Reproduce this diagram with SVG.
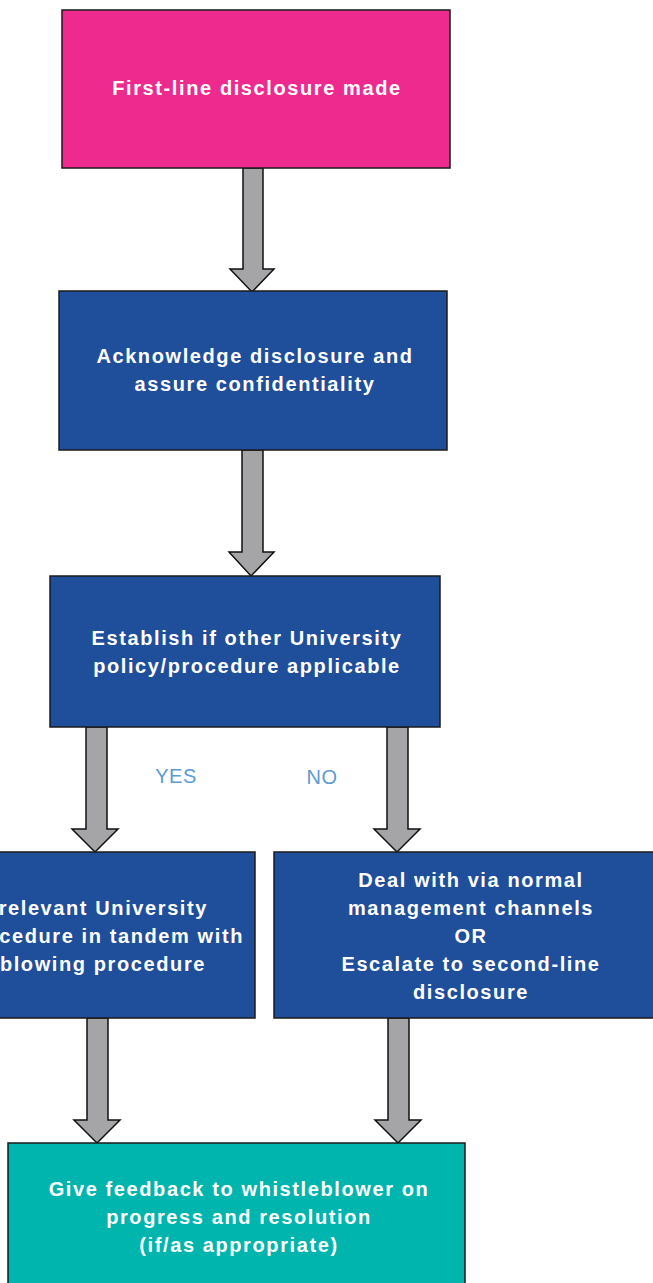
<svg xmlns="http://www.w3.org/2000/svg" width="653" height="1283" viewBox="0 0 653 1283">
<style>
.box{stroke:#1b1b1b;stroke-width:1.5}
.blue{fill:#1F4E9B}
.t{font-family:"Liberation Sans",Arial,sans-serif;font-size:20px;font-weight:bold;fill:#ffffff;text-anchor:middle;letter-spacing:1.6px}
.e{text-anchor:end}
.lbl{font-family:"Liberation Sans",Arial,sans-serif;font-size:20px;fill:#5B9BD5;text-anchor:middle;letter-spacing:0.5px}
.arr{fill:#A5A5A7;stroke:#111;stroke-width:1.5;stroke-linejoin:miter}
</style>
<rect width="653" height="1283" fill="#ffffff"/>
<g id="connectors">
<path class="arr" d="M243,168 L243,269 L230,269 L252,292 L274,269 L263,269 L263,168 Z"/>
<path class="arr" d="M242,450 L242,552 L229,552 L251,576 L274,552 L263,552 L263,450 Z"/>
<path class="arr" d="M86,727 L86,829 L72,829 L95,852 L118,829 L107,829 L107,727 Z"/>
<path class="arr" d="M387,727 L387,829 L374,829 L397,852 L420,829 L408,829 L408,727 Z"/>
<path class="arr" d="M87,1018 L87,1120 L74,1120 L97,1143 L120,1120 L108,1120 L108,1018 Z"/>
<path class="arr" d="M388,1018 L388,1120 L375,1120 L398,1143 L421,1120 L409,1120 L409,1018 Z"/>
<text class="lbl" x="176" y="783">YES</text>
<text class="lbl" x="322" y="784">NO</text>
</g>
<g id="n1">
<rect class="box" x="62" y="10" width="388" height="158" fill="#EE2A8F"/>
<text class="t" x="257" y="95">First-line disclosure made</text>
</g>
<g id="n2">
<rect class="box blue" x="59" y="291" width="388" height="159"/>
<text class="t" x="255" y="363">Acknowledge disclosure and</text>
<text class="t" x="255" y="391">assure confidentiality</text>
</g>
<g id="n3">
<rect class="box blue" x="50" y="576" width="390" height="151"/>
<text class="t" x="247" y="645">Establish if other University</text>
<text class="t" x="247" y="673">policy/procedure applicable</text>
</g>
<g id="n4">
<rect class="box blue" x="-140" y="852" width="395" height="166"/>
<text class="t e" x="208" y="915">relevant University</text>
<text class="t e" x="244" y="943">cedure in tandem with</text>
<text class="t e" x="206" y="971">blowing procedure</text>
</g>
<g id="n5">
<rect class="box blue" x="274" y="852" width="390" height="166"/>
<text class="t" x="471" y="887">Deal with via normal</text>
<text class="t" x="471" y="915">management channels</text>
<text class="t" x="471" y="943">OR</text>
<text class="t" x="471" y="971">Escalate to second-line</text>
<text class="t" x="471" y="999">disclosure</text>
</g>
<g id="n6">
<rect class="box" x="8" y="1143" width="457" height="150" fill="#00B5AD"/>
<text class="t" x="239" y="1196">Give feedback to whistleblower on</text>
<text class="t" x="239" y="1224">progress and resolution</text>
<text class="t" x="239" y="1252">(if/as appropriate)</text>
</g>
</svg>
